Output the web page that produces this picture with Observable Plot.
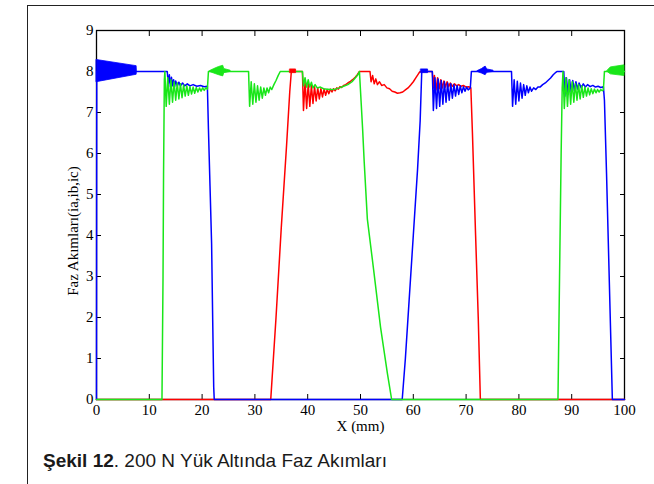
<!DOCTYPE html>
<html><head><meta charset="utf-8">
<script src="https://cdn.jsdelivr.net/npm/d3@7"></script>
<script src="https://cdn.jsdelivr.net/npm/@observablehq/plot@0.6"></script>
<style>
body{margin:0;background:#fff;width:654px;height:484px;overflow:hidden;position:relative;}
#frame{position:absolute;left:27px;top:5px;width:640px;height:500px;border-top:1.5px solid #222;border-left:1.5px solid #222;}
#chart{position:absolute;left:0;top:0;}
#caption{position:absolute;left:43px;top:450px;font-family:"Liberation Sans",Arial,sans-serif;font-size:19px;color:#1a1a1a;white-space:nowrap;}
</style></head>
<body>
<div id="frame"></div>
<div id="chart"></div>
<div id="caption"><b>Şekil 12</b>. 200 N Yük Altında Faz Akımları</div>
<script>
const xTicks = [0,10,20,30,40,50,60,70,80,90,100];
const yTicks = [0,1,2,3,4,5,6,7,8,9];
const xLabel = "X (mm)";
const yLabel = "Faz Akımları(ia,ib,ic)";

// phase a (red)
const phaseA = [[0,0],[33.0,0],[34.0,2.0],[35.0,4.2],[36.0,6.2],[36.6,7.5],[36.9,8.0],[39.0,8.0],
[39.2,7.05],[39.5,7.75],[39.8,7.1],[40.1,7.7],[40.4,7.15],[40.7,7.66],[41.0,7.22],[41.3,7.63],[41.6,7.28],[41.9,7.6],[42.2,7.33],[42.5,7.58],[42.8,7.38],[43.1,7.57],[43.4,7.42],[43.7,7.56],[44.0,7.46],[44.3,7.57],[44.6,7.5],[44.9,7.58],[45.2,7.53],[45.5,7.6],[45.8,7.57],[46.1,7.63],[46.4,7.61],[46.8,7.66],[47.2,7.68],[47.6,7.72],[48.0,7.75],[48.5,7.8],[49.0,7.86],[49.4,7.92],[49.8,8.0],[51.8,8.0],
[52.0,7.75],[52.3,7.9],[52.6,7.7],[52.9,7.82],[53.2,7.68],[53.6,7.75],[54.0,7.66],[54.5,7.68],[55.0,7.6],[55.5,7.58],[56.0,7.52],[56.5,7.5],[57.0,7.47],[57.5,7.48],[58.0,7.5],[58.5,7.55],[59.0,7.6],[59.5,7.67],[60.0,7.75],[60.5,7.85],[61.0,7.95],[61.3,8.0],[63.6,8.0],
[63.8,7.6],[64.0,7.9],[64.3,7.55],[64.6,7.85],[64.9,7.58],[65.2,7.8],[65.5,7.6],[65.8,7.77],[66.1,7.62],[66.4,7.75],[66.7,7.63],[67.0,7.72],[67.4,7.64],[67.8,7.7],[68.2,7.65],[68.6,7.68],[69.0,7.64],[69.5,7.66],[70.0,7.62],[70.5,7.63],[70.9,7.6],
[71.2,6.5],[71.8,4.0],[72.3,2.0],[72.7,0],[100,0]];

// phase b (blue)
const phaseB = [[0,0],[0.05,8.0],[7.6,8.0],[13.4,8.0],
[13.6,7.7],[13.8,7.92],[14.0,7.63],[14.2,7.86],[14.4,7.65],[14.6,7.8],[14.8,7.64],[15.0,7.77],[15.3,7.65],[15.6,7.74],[15.9,7.65],[16.3,7.72],[16.7,7.65],[17.2,7.7],[17.7,7.65],[18.3,7.68],[19.0,7.64],[19.7,7.66],[20.4,7.63],[21.0,7.64],
[21.2,6.6],[21.5,5.2],[21.8,3.8],[22.0,2.0],[22.2,0.3],[22.3,0],[57.9,0],
[58.5,1.0],[59.2,2.4],[60.0,4.0],[60.8,5.6],[61.3,6.8],[61.6,8.0],[63.6,8.0],
[63.8,7.05],[64.1,7.85],[64.4,7.1],[64.7,7.82],[65.0,7.15],[65.3,7.78],[65.6,7.2],[65.9,7.75],[66.2,7.25],[66.5,7.72],[66.8,7.3],[67.1,7.7],[67.4,7.35],[67.7,7.68],[68.0,7.4],[68.3,7.66],[68.6,7.44],[68.9,7.65],[69.2,7.48],[69.5,7.63],[69.8,7.52],[70.1,7.62],[70.4,7.55],[70.8,7.6],
[71.0,8.0],[78.6,8.0],
[78.8,7.15],[79.1,7.8],[79.4,7.2],[79.7,7.76],[80.0,7.28],[80.3,7.72],[80.6,7.35],[80.9,7.68],[81.2,7.42],[81.5,7.65],[81.8,7.48],[82.1,7.62],[82.4,7.52],[82.8,7.6],[83.2,7.56],[83.6,7.62],[84.0,7.62],[84.5,7.68],[85.0,7.72],[85.5,7.78],[86.0,7.84],[86.5,7.92],[87.0,7.98],[87.2,8.0],[88.5,8.0],
[88.7,7.4],[89.0,7.85],[89.3,7.45],[89.6,7.8],[89.9,7.5],[90.2,7.78],[90.5,7.54],[90.8,7.75],[91.1,7.57],[91.4,7.72],[91.8,7.6],[92.2,7.7],[92.6,7.62],[93.0,7.68],[93.5,7.63],[94.0,7.66],[94.5,7.62],[95.0,7.64],[95.5,7.61],[96.0,7.63],
[96.2,7.3],[96.6,5.5],[97.0,3.5],[97.4,1.5],[97.7,0],[100,0]];

// phase c (green)
const phaseC = [[0,0],[12.4,0],[12.6,3.0],[12.7,5.5],[12.85,7.8],[12.95,8.0],
[13.2,7.15],[13.5,7.85],[13.8,7.2],[14.1,7.8],[14.4,7.25],[14.7,7.75],[15.0,7.3],[15.3,7.72],[15.6,7.33],[15.9,7.7],[16.2,7.36],[16.5,7.67],[16.8,7.4],[17.1,7.65],[17.4,7.42],[17.7,7.63],[18.0,7.45],[18.3,7.62],[18.6,7.47],[18.9,7.61],[19.2,7.5],[19.5,7.6],[19.8,7.52],[20.1,7.6],[20.4,7.54],[20.7,7.6],[21.0,7.57],
[21.2,8.0],[28.8,8.0],
[29.0,7.15],[29.3,7.75],[29.6,7.2],[29.9,7.7],[30.2,7.25],[30.5,7.65],[30.8,7.3],[31.1,7.62],[31.4,7.35],[31.7,7.6],[32.0,7.42],[32.3,7.6],[32.6,7.48],[32.9,7.62],[33.2,7.56],[33.6,7.68],[34.0,7.78],[34.4,7.9],[34.8,8.0],[39.0,8.0],
[39.2,7.65],[39.5,7.85],[39.8,7.62],[40.1,7.8],[40.4,7.62],[40.7,7.74],[41.0,7.6],[41.4,7.68],[41.8,7.6],[42.4,7.62],[43.0,7.58],[43.7,7.57],[44.4,7.56],[45.2,7.57],[46.0,7.6],[46.8,7.64],[47.6,7.68],[48.4,7.75],[49.0,7.84],[49.5,7.92],[49.8,8.0],
[50.1,7.3],[50.4,6.6],[50.7,5.8],[51.3,4.4],[52.5,3.15],[53.8,1.76],[55.1,0.63],[55.9,0],[87.4,0],
[87.7,3.0],[88.0,6.0],[88.2,7.6],[88.35,8.0],
[88.6,7.1],[88.9,7.85],[89.2,7.15],[89.5,7.8],[89.8,7.2],[90.1,7.75],[90.4,7.25],[90.7,7.7],[91.0,7.3],[91.3,7.68],[91.6,7.33],[91.9,7.65],[92.2,7.37],[92.5,7.62],[92.8,7.4],[93.1,7.6],[93.4,7.43],[93.7,7.58],[94.0,7.46],[94.3,7.57],[94.6,7.48],[94.9,7.56],[95.2,7.5],[95.5,7.56],[95.8,7.53],[96.0,7.55],
[96.2,8.0],[100,8.0]];

// dense chopping bursts drawn as envelopes [x, low, high]
const blueBurst1 = [[0.05,7.74,8.28],[7.6,7.92,8.13],[7.65,8.0,8.0]];
const greenBurst1 = [[21.5,7.99,8.01],[22.3,7.95,8.06],[23.2,7.91,8.11],[24.0,7.88,8.14],[24.2,7.96,8.06],[25.4,7.99,8.02]];
const blueBurst2 = [[72.2,7.99,8.01],[73.0,7.95,8.06],[73.7,7.91,8.12],[74.0,7.97,8.05],[75.2,7.99,8.02]];
const greenBurst2 = [[96.8,7.99,8.02],[97.4,7.93,8.1],[100,7.89,8.15]];
const redBlip = [[36.7,7.96,8.05],[37.8,7.96,8.05]];
const blueBlip = [[61.5,7.96,8.05],[62.8,7.96,8.05]];

const RED = "#ff0000", BLUE = "#0000ff", GREEN = "#19e619";
const lineOpts = (c) => ({x: d => d[0], y: d => d[1], stroke: c, strokeWidth: 1.5, curve: "linear"});
const areaOpts = (c) => ({x: d => d[0], y1: d => d[1], y2: d => d[2], fill: c, stroke: c, strokeWidth: 0.8});
const noText = () => "";

const chart = Plot.plot({
  width: 654, height: 440,
  marginLeft: 96, marginRight: 30, marginTop: 30, marginBottom: 41,
  style: {fontFamily: "'Liberation Serif','Times New Roman',serif", fontSize: "15px", color: "#000", background: "transparent"},
  x: {domain: [0, 100]},
  y: {domain: [0, 9]},
  marks: [
    Plot.frame({stroke: "#000", strokeWidth: 1.3}),
    Plot.axisX(xTicks, {anchor: "bottom", tickSize: 5, dy: -5, tickFormat: noText, label: null}),
    Plot.axisX(xTicks, {anchor: "top", tickSize: 5, dy: 5, tickFormat: noText, label: null}),
    Plot.axisY(yTicks, {anchor: "left", tickSize: 5, dx: 5, tickFormat: noText, label: null}),
    Plot.axisY(yTicks, {anchor: "right", tickSize: 5, dx: -5, tickFormat: noText, label: null}),
    Plot.line(phaseA, lineOpts(RED)),
    Plot.line(phaseB, lineOpts(BLUE)),
    Plot.line(phaseC, lineOpts(GREEN)),
    Plot.areaY(blueBurst1, areaOpts(BLUE)),
    Plot.areaY(greenBurst1, areaOpts(GREEN)),
    Plot.areaY(blueBurst2, areaOpts(BLUE)),
    Plot.areaY(greenBurst2, areaOpts(GREEN)),
    Plot.areaY(redBlip, areaOpts(RED)),
    Plot.areaY(blueBlip, areaOpts(BLUE)),
    Plot.axisX(xTicks, {anchor: "bottom", tickSize: 0, tickPadding: 5, label: null, fontSize: 15}),
    Plot.axisY(yTicks, {anchor: "left", tickSize: 0, tickPadding: 3, label: null, fontSize: 15}),
    Plot.text([xLabel], {frameAnchor: "bottom", dy: 31, fontSize: 15}),
    Plot.text([yLabel], {frameAnchor: "left", dx: -23, dy: 16, rotate: -90, textAnchor: "middle", fontSize: 15})
  ]
});
document.getElementById("chart").appendChild(chart);
</script>
</body></html>
